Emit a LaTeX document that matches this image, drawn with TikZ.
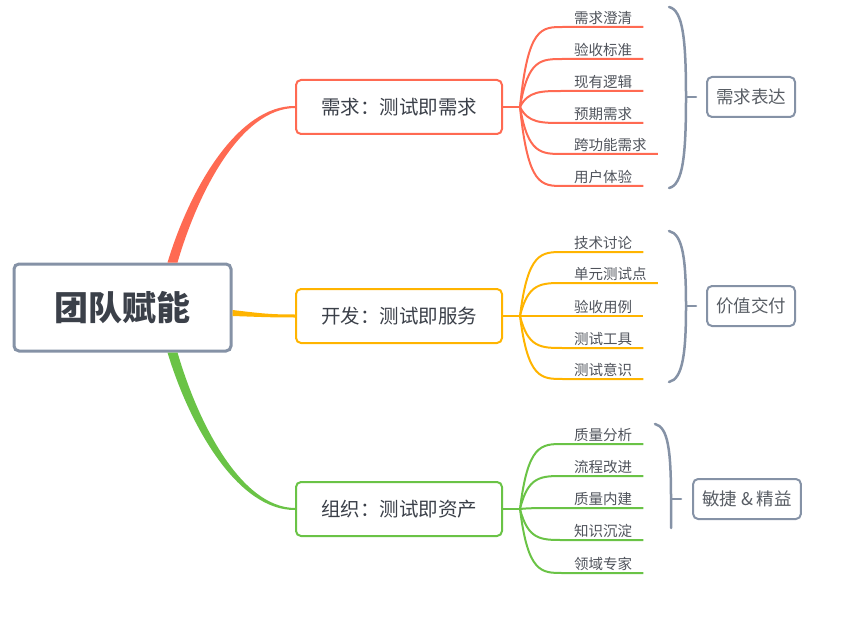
\documentclass[tikz,border=0pt]{standalone}
\usepackage{fontspec}
\setmainfont{Noto Sans CJK SC}
\usetikzlibrary{calc}

\definecolor{redbr}{HTML}{FF6A52}
\definecolor{yelbr}{HTML}{FFB400}
\definecolor{grnbr}{HTML}{6AC346}
\definecolor{slate}{HTML}{8592A6}
\definecolor{ink}{HTML}{3B4049}

\tikzset{
  root/.style={draw=slate, line width=3pt, rounded corners=5pt, fill=white, minimum width=217pt, minimum height=87pt, font=\fontsize{34}{40}\selectfont\bfseries, text=ink},
  topic/.style={draw=#1, line width=2pt, rounded corners=5pt, fill=white, minimum width=206pt, minimum height=54pt, font=\fontsize{19.5}{24}\selectfont, text=ink},
  leaf/.style={anchor=south west, inner ysep=2pt, inner xsep=11pt, font=\fontsize{14.5}{17}\selectfont, text=ink!90},
  goal/.style={draw=slate, line width=2pt, rounded corners=5pt, minimum height=40pt, inner xsep=9pt, font=\fontsize{17.5}{21}\selectfont, text=ink!85},
  twig/.style={draw=#1, line width=2pt, to path={.. controls ($(\tikztostart |- \tikztotarget.south west)+(8,0)$) and ($(\tikztotarget.south west)+(-22,0)$) .. (\tikztotarget.south west) -- (\tikztotarget.south east)}},
  brace/.style={draw=slate, line width=2.5pt, line cap=round},
}

\begin{document}
\begin{tikzpicture}[x=1pt,y=-1pt]
  \useasboundingbox (0,0) rectangle (850,620);

  \node[root] (team) at (122.5,307.5) {团队赋能};
  \node[topic=redbr] (req) at (399,107) {需求：测试即需求};
  \node[topic=yelbr] (dev) at (399,316) {开发：测试即服务};
  \node[topic=grnbr] (org) at (399,509) {组织：测试即资产};

  \fill[redbr] ([xshift=-65pt]team.north east) .. controls (190,188) and (238,105.5) .. ([yshift=1pt]req.west)
    -- ([yshift=-1pt]req.west) .. controls (241,108.5) and (198,192) .. ([xshift=-55pt]team.north east) -- cycle;
  \fill[yelbr] ([yshift=-2.5pt]team.east) .. controls (262,313.5) and (270,314.5) .. ([yshift=1.5pt]dev.west)
    -- ([yshift=-1.5pt]dev.west) .. controls (270,317.5) and (262,317) .. ([yshift=-8.5pt]team.east) -- cycle;
  \fill[grnbr] ([xshift=-65pt]team.south east) .. controls (190,427) and (238,510.5) .. ([yshift=-1pt]org.west)
    -- ([yshift=1pt]org.west) .. controls (241,507.5) and (198,423) .. ([xshift=-55pt]team.south east) -- cycle;

  \coordinate (rf) at (520,107);
  \coordinate (yf) at (520,316);
  \coordinate (gf) at (520,509);

  \node[leaf] (r1) at (563,27) {需求澄清};
  \node[leaf] (r2) at (563,59) {验收标准};
  \node[leaf] (r3) at (563,91) {现有逻辑};
  \node[leaf] (r4) at (563,123) {预期需求};
  \node[leaf] (r5) at (563,154) {跨功能需求};
  \node[leaf] (r6) at (563,186) {用户体验};

  \node[leaf] (y1) at (563,252) {技术讨论};
  \node[leaf] (y2) at (563,283) {单元测试点};
  \node[leaf] (y3) at (563,316) {验收用例};
  \node[leaf] (y4) at (563,348) {测试工具};
  \node[leaf] (y5) at (563,379) {测试意识};

  \node[leaf] (g1) at (563,444) {质量分析};
  \node[leaf] (g2) at (563,476) {流程改进};
  \node[leaf] (g3) at (563,508) {质量内建};
  \node[leaf] (g4) at (563,540) {知识沉淀};
  \node[leaf] (g5) at (563,573) {领域专家};

  \draw[redbr, line width=2pt] (req) -- (rf);
  \draw[yelbr, line width=2pt] (dev) -- (yf);
  \draw[grnbr, line width=2pt] (org) -- (gf);

  \path (rf) edge[twig=redbr] (r1) edge[twig=redbr] (r2) edge[twig=redbr] (r3)
             edge[twig=redbr] (r4) edge[twig=redbr] (r5) edge[twig=redbr] (r6);
  \path (yf) edge[twig=yelbr] (y1) edge[twig=yelbr] (y2) edge[twig=yelbr] (y3)
             edge[twig=yelbr] (y4) edge[twig=yelbr] (y5);
  \path (gf) edge[twig=grnbr] (g1) edge[twig=grnbr] (g2) edge[twig=grnbr] (g3)
             edge[twig=grnbr] (g4) edge[twig=grnbr] (g5);

  \node[goal] (expr) at (751,97) {需求表达};
  \node[goal] (value) at (751,306) {价值交付};
  \node[goal] (lean) at (747,499) {敏捷 \& 精益};

  \draw[brace] (669,7) .. controls (683,10) and (686,40) .. (686,97) .. controls (686,155) and (683,185) .. (669,188);
  \draw[brace] (686,97) -- (696,97);
  \draw[brace] (669,231) .. controls (683,234) and (686,260) .. (686,306) .. controls (686,352) and (683,379) .. (669,382);
  \draw[brace] (686,306) -- (696,306);
  \draw[brace] (655,424) .. controls (668,427) and (671,450) .. (671,499) -- (671,528);
  \draw[brace] (671,499) -- (681,499);
\end{tikzpicture}
\end{document}
